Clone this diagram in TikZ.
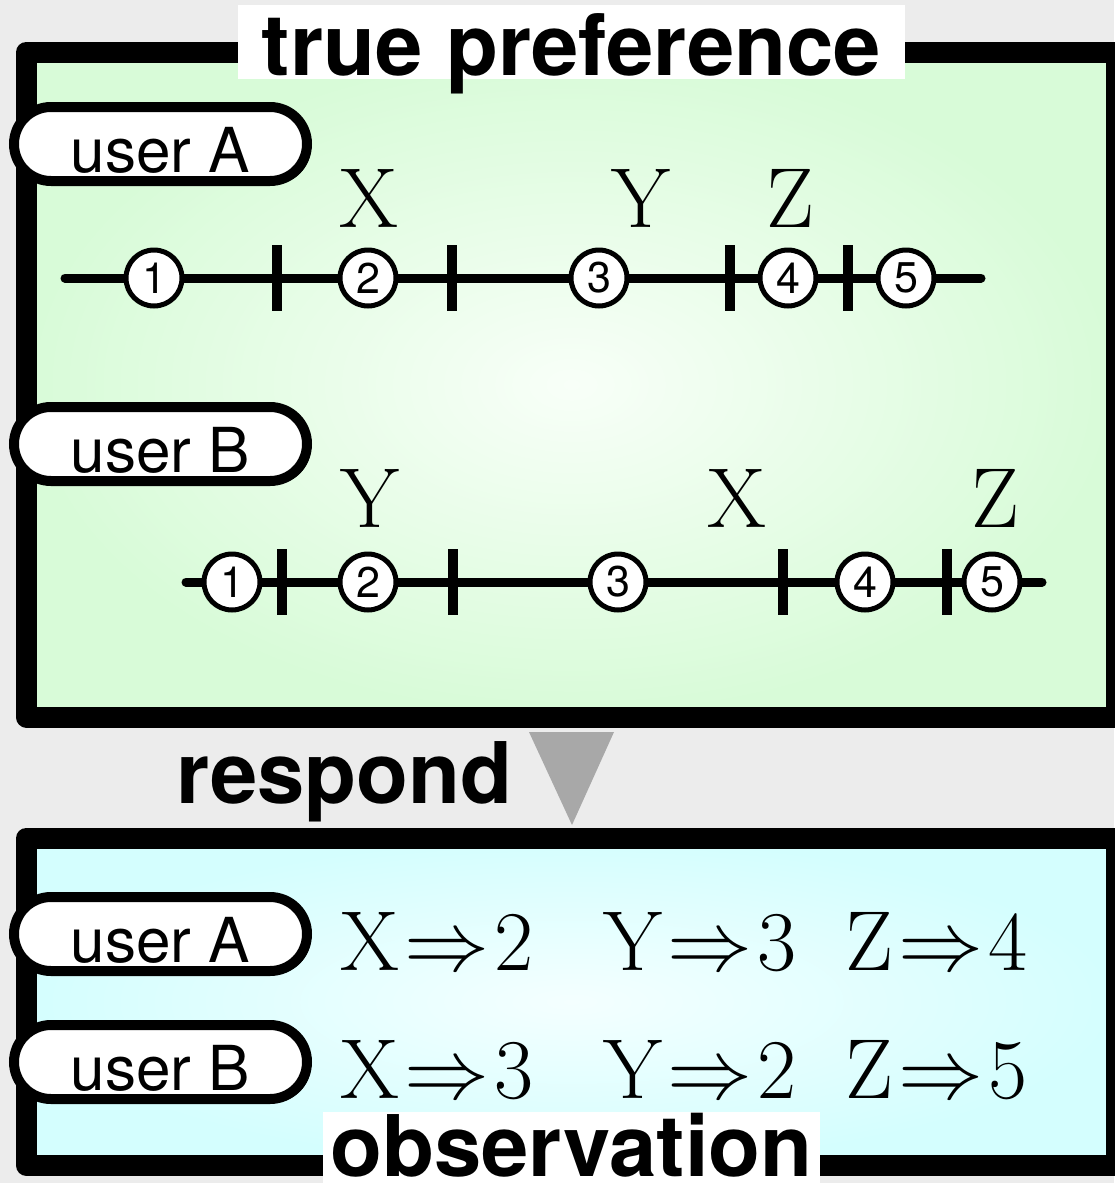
\RequirePackage{fix-cm}
\documentclass[tikz,border=0pt]{standalone}
\usepackage{fontspec}
\newfontfamily\hv{TeX Gyre Heros}
\usetikzlibrary{shapes.misc,shadows}
\definecolor{bgc}{RGB}{236,236,236}
\definecolor{gfill}{RGB}{216,251,216}
\definecolor{gcenter}{RGB}{248,255,248}
\definecolor{cfill}{RGB}{212,254,254}
\definecolor{ccenter}{RGB}{244,255,255}
\definecolor{arrowgray}{RGB}{168,168,168}
\pgfdeclareradialshading{greenrad}{\pgfpoint{0bp}{0bp}}{color(0bp)=(gcenter); color(25bp)=(gfill); color(50bp)=(gfill)}
\pgfdeclareradialshading{cyanrad}{\pgfpoint{0bp}{0bp}}{color(0bp)=(ccenter); color(25bp)=(cfill); color(50bp)=(cfill)}
\newcommand{\obs}[2]{#1\kern5pt$\Rightarrow$\kern5pt#2}
\begin{document}
\begin{tikzpicture}[x=1pt,y=-1pt,
  frame/.style={draw=black, line width=21pt, line join=round, inner sep=0pt, outer sep=0pt, shade},
  pill/.style={rounded rectangle, draw=black, fill=white, line width=10pt,
    minimum width=293pt, minimum height=74pt, inner sep=0pt, outer sep=0pt,
    text height=56pt, text depth=0pt,
    font=\hv\fontsize{62}{62}\selectfont,
    drop shadow={shadow xshift=4pt, shadow yshift=-3pt, fill=black, opacity=1}},
  num/.style={circle, draw=black, fill=white, line width=5pt, minimum size=56pt,
    inner sep=0pt, font=\hv\fontsize{43}{43}\selectfont},
  tickmark/.style={line width=10pt},
  nline/.style={line width=9pt, line cap=round},
  item/.style={font=\fontsize{85}{85}\selectfont, anchor=base, inner sep=0pt},
  title/.style={font=\hv\bfseries\fontsize{85}{85}\selectfont, inner sep=0pt, anchor=base}
]
\fill[bgc] (0,0) rectangle (1114,1183);
\useasboundingbox (0,0) rectangle (1114,1183);

% frames
\node[frame, shading=greenrad, minimum width=1090pt, minimum height=665pt] (topbox) at (571.5,384.5) {};
\node[frame, shading=cyanrad, minimum width=1090pt, minimum height=327.5pt] (botbox) at (571.5,1001.75) {};

% titles
\node[title, fill=white, minimum width=667pt, text height=70pt, text depth=4pt] (ttrue) at (571.5,75) {true preference};
\node[title, fill=white, minimum width=497pt, text height=64pt, text depth=7pt] (tobs) at (571.5,1176) {observation};
\node[title] (trespond) at (344.5,803) {respond};
\fill[arrowgray] (529,732) -- (614,732) -- (572,825) -- cycle;

% pills
\node[pill] (pA) at (160.5,144) {user A};
\node[pill] (pB) at (160.5,444) {user B};
\node[pill] (qA) at (160.5,934) {user A};
\node[pill] (qB) at (160.5,1062) {user B};

% number line A
\coordinate (a0) at (65,278);
\coordinate (a9) at (981,278);
\draw[nline] (a0) -- (a9);
\foreach \x in {277,452,730,848} \draw[tickmark] (\x,245) -- (\x,311);
\node[num] (a1) at (154,278) {1};
\node[num] (a2) at (368,278) {2};
\node[num] (a3) at (599,278) {3};
\node[num] (a4) at (788,278) {4};
\node[num] (a5) at (906,278) {5};
\node[item] (lAX) at (369,227) {X};
\node[item] (lAY) at (641,227) {Y};
\node[item] (lAZ) at (790,227) {Z};

% number line B
\coordinate (b0) at (186,582);
\coordinate (b9) at (1042,582);
\draw[nline] (b0) -- (b9);
\foreach \x in {282,453,783,947} \draw[tickmark] (\x,549) -- (\x,615);
\node[num] (b1) at (232,582) {1};
\node[num] (b2) at (368,582) {2};
\node[num] (b3) at (618,582) {3};
\node[num] (b4) at (865,582) {4};
\node[num] (b5) at (992,582) {5};
\node[item] (lBY) at (370,527) {Y};
\node[item] (lBX) at (737,527) {X};
\node[item] (lBZ) at (995,527) {Z};

% observations
\node[item, anchor=base west] (oA1) at (340,970) {\obs{X}{2}};
\node[item, anchor=base west] (oA2) at (603,970) {\obs{Y}{3}};
\node[item, anchor=base west] (oA3) at (845,970) {\obs{Z}{4}};
\node[item, anchor=base west] (oB1) at (340,1098) {\obs{X}{3}};
\node[item, anchor=base west] (oB2) at (603,1098) {\obs{Y}{2}};
\node[item, anchor=base west] (oB3) at (845,1098) {\obs{Z}{5}};
\end{tikzpicture}
\end{document}
